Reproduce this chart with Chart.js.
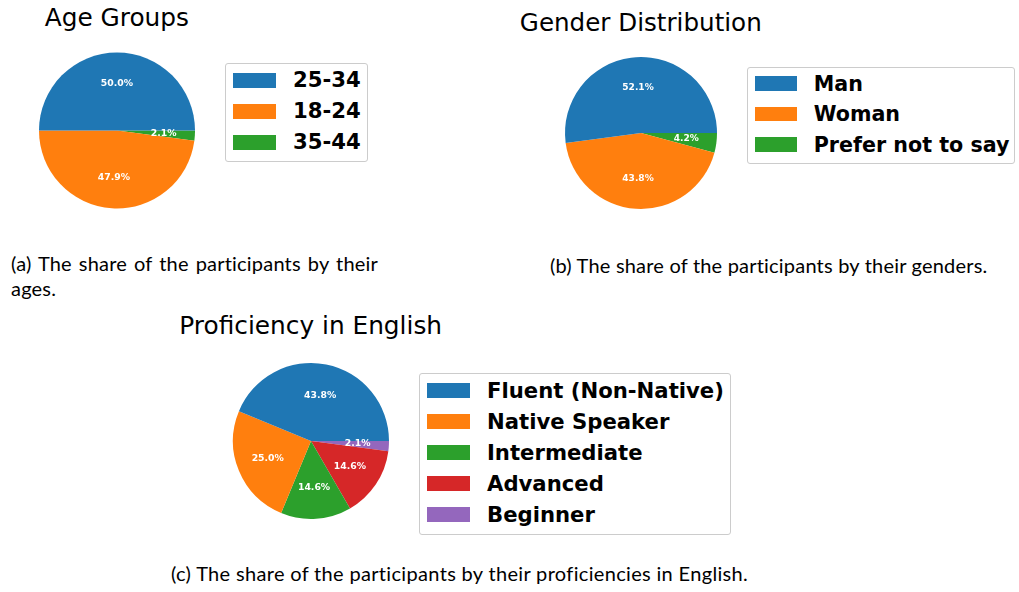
<!DOCTYPE html>
<html><head><meta charset="utf-8">
<script src="https://cdn.jsdelivr.net/npm/chart.js@4"></script>
<style>
html,body{margin:0;padding:0;background:#fff;}
body{width:1019px;height:592px;position:relative;overflow:hidden;}
.title{position:absolute;width:400px;text-align:center;font-family:'DejaVu Sans';font-size:24.8px;line-height:1.164;color:#000;white-space:nowrap;}
.pie{position:absolute;}
.legend{position:absolute;border:1px solid #cccccc;border-radius:3px;background:rgba(255,255,255,0.8);box-sizing:border-box;}
.row{position:absolute;}
.patch{position:absolute;left:0;top:0;}
.lab{position:absolute;font-family:'DejaVu Sans';font-weight:bold;line-height:1.164;white-space:nowrap;color:#000;}
.cap{position:absolute;font-family:Lato;font-size:20px;letter-spacing:0.2px;line-height:1.2;white-space:nowrap;color:#000;}
.just{white-space:normal;text-align:justify;text-align-last:justify;}
</style>
</head>
<body>
<div class="title" style="left:-83.2px;top:3.7px;">Age Groups</div>
<div class="title" style="left:440.8px;top:8.9px;font-size:24.6px;">Gender Distribution</div>
<div class="title" style="left:110.7px;top:312px;">Proficiency in English</div>

<canvas id="pieA" class="pie" width="180" height="180" style="left:27px;top:40px;"></canvas>
<canvas id="pieB" class="pie" width="176" height="176" style="left:553px;top:45px;"></canvas>
<canvas id="pieC" class="pie" width="180" height="180" style="left:221px;top:351px;"></canvas>

<div id="legA" class="legend" style="left:225.3px;top:63.3px;width:142.7px;height:99px;"></div>
<div id="legB" class="legend" style="left:747.3px;top:66.7px;width:267.7px;height:97.3px;"></div>
<div id="legC" class="legend" style="left:419.3px;top:373.3px;width:311.7px;height:161.7px;"></div>

<div class="cap just" style="left:11px;top:250.9px;width:367px;">(a) The share of the participants by their</div>
<div class="cap" style="left:11px;top:276.3px;">ages.</div>
<div class="cap" style="left:550px;top:252.7px;">(b) The share of the participants by their genders.</div>
<div class="cap" style="left:171px;top:561.2px;letter-spacing:0.33px;">(c) The share of the participants by their proficiencies in English.</div>

<script>
// ---- data ----
const ageLabels = ['25-34', '18-24', '35-44'];
const ageCounts = [24, 23, 1];
const genderLabels = ['Man', 'Woman', 'Prefer not to say'];
const genderCounts = [25, 21, 2];
const profLabels = ['Fluent (Non-Native)', 'Native Speaker', 'Intermediate', 'Advanced', 'Beginner'];
const profCounts = [21, 12, 7, 7, 1];
const palette = ['#1f77b4', '#ff7f0e', '#2ca02c', '#d62728', '#9467bd'];

// percentage labels at 0.6 of the radius (like matplotlib autopct)
const pctPlugin = {
  id: 'pct',
  afterDatasetsDraw(chart, args, opts) {
    const ctx = chart.ctx;
    const meta = chart.getDatasetMeta(0);
    const data = chart.data.datasets[0].data;
    const total = data.reduce((a, b) => a + b, 0);
    ctx.save();
    ctx.font = 'bold ' + (opts.size || 9.3) + 'px "DejaVu Sans"';
    ctx.fillStyle = '#ffffff';
    ctx.textAlign = 'center';
    ctx.textBaseline = 'middle';
    meta.data.forEach((arc, i) => {
      const p = arc.getProps(['x', 'y', 'startAngle', 'endAngle', 'outerRadius'], true);
      const mid = (p.startAngle + p.endAngle) / 2;
      const r = p.outerRadius * 0.6;
      ctx.fillText((data[i] / total * 100).toFixed(1) + '%', p.x + Math.cos(mid) * r, p.y + Math.sin(mid) * r);
    });
    ctx.restore();
  }
};

function makePie(id, labels, counts, pad, pctSize) {
  // matplotlib draws counter-clockwise from 3 o'clock; Chart.js draws clockwise,
  // so feed the slices in reverse order starting at 3 o'clock.
  const order = labels.map((_, i) => i).reverse();
  new Chart(document.getElementById(id), {
    type: 'pie',
    data: {
      labels: order.map(i => labels[i]),
      datasets: [{
        data: order.map(i => counts[i]),
        backgroundColor: order.map(i => palette[i]),
        borderWidth: 0
      }]
    },
    options: {
      responsive: false,
      animation: false,
      events: [],
      rotation: 90,
      layout: { padding: pad },
      plugins: { legend: { display: false }, tooltip: { enabled: false }, pct: { size: pctSize } }
    },
    plugins: [pctPlugin]
  });
}

function makeLegend(id, labels, offX, offY, step, s) {
  const el = document.getElementById(id);
  const fs = 21.2 * s;
  labels.forEach((t, i) => {
    const row = document.createElement('div');
    row.className = 'row';
    row.style.left = offX + 'px';
    row.style.top = (offY + i * step) + 'px';
    const patch = document.createElement('div');
    patch.className = 'patch';
    patch.style.width = (43 * s) + 'px';
    patch.style.height = (15 * s) + 'px';
    patch.style.background = palette[i];
    const lab = document.createElement('div');
    lab.className = 'lab';
    lab.style.fontSize = fs + 'px';
    lab.style.left = (60.3 * s) + 'px';
    lab.style.top = (15.2 * s - 0.928 * fs) + 'px';
    lab.textContent = t;
    row.appendChild(patch);
    row.appendChild(lab);
    el.appendChild(row);
  });
}

makePie('pieA', ageLabels, ageCounts, { left: 12, right: 12, top: 12.5, bottom: 11.5 }, 9.3);
makePie('pieB', genderLabels, genderCounts, { left: 12, right: 12, top: 12, bottom: 12 }, 9.06);
makePie('pieC', profLabels, profCounts, { left: 12, right: 12, top: 12, bottom: 12 }, 9.3);

makeLegend('legA', ageLabels, 6.4, 8.4, 31.1, 1);
makeLegend('legB', genderLabels, 6.7, 8.3, 30.7, 0.974);
makeLegend('legC', profLabels, 6.4, 9, 31, 1);
</script>
</body></html>
